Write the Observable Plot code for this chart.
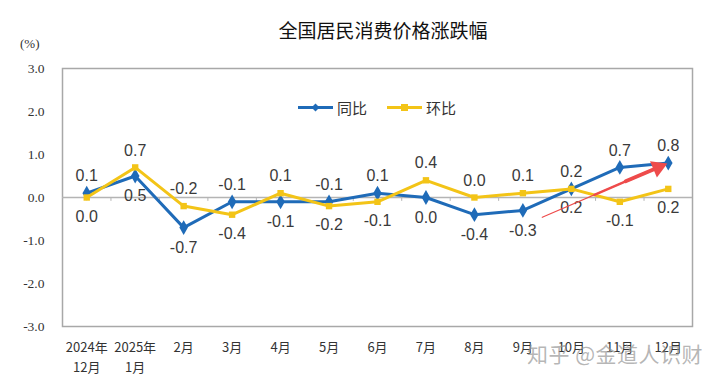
<!DOCTYPE html>
<html>
<head>
<meta charset="utf-8">
<script src="https://cdn.jsdelivr.net/npm/d3@7"></script>
<script src="https://cdn.jsdelivr.net/npm/@observablehq/plot@0.6"></script>
<style>
  html, body { margin: 0; padding: 0; background: #fff; }
  #wrap { position: relative; width: 720px; height: 383px; overflow: hidden; font-family: "Noto Sans CJK SC", "Noto Sans", sans-serif; }
  #title { position: absolute; left: 0; width: 766px; top: 16px; text-align: center; font-size: 19px; color: #111; }
  #unit { position: absolute; left: 20px; top: 36px; font-family: "Liberation Serif", serif; font-size: 13px; color: #333; }
  #legend { position: absolute; left: 298px; top: 97px; display: flex; align-items: center; font-size: 15px; color: #333; }
  #legend .item { display: flex; align-items: center; margin-right: 20px; }
  #legend svg { margin-right: 4px; }
  #wm { position: absolute; left: 527px; top: 338px; font-size: 21px; color: rgba(150,150,150,0.7); letter-spacing: 0.5px; }
</style>
</head>
<body>
<div id="wrap">
  <div id="chart"></div>
  <div id="title"></div>
  <div id="unit"></div>
  <div id="legend"></div>
  <div id="wm"></div>
</div>
<script>
const titleText = "全国居民消费价格涨跌幅";
const unitText = "(%)";
const months = ["2024年\n12月", "2025年\n1月", "2月", "3月", "4月", "5月", "6月", "7月", "8月", "9月", "10月", "11月", "12月"];
const yoy = [0.1, 0.5, -0.7, -0.1, -0.1, -0.1, 0.1, 0.0, -0.4, -0.3, 0.2, 0.7, 0.8];   // 同比
const mom = [0.0, 0.7, -0.2, -0.4, 0.1, -0.2, -0.1, 0.4, 0.0, 0.1, 0.2, -0.1, 0.2];   // 环比
const seriesNames = ["同比", "环比"];
const yTicks = [-3, -2, -1, 0, 1, 2, 3];
const arrowStart = [9.4, -0.46];
const arrowHead = [11.79, 0.70];
const watermark = "知乎 @金道人识财";

const blue = "#1f6bb8";
const yellow = "#f3c417";
const red = "#ee4b4b";

const rows = months.map((m, i) => ({i, m, yoy: yoy[i], mom: mom[i]}));
const bounds = months.slice(1).map((_, i) => i + 0.5);

// tapered arrow shaft segments
const shaft = [0, 0.45, 0.72].map((t, k) => ({
  x1: arrowStart[0] + (arrowHead[0] - arrowStart[0]) * t,
  y1: arrowStart[1] + (arrowHead[1] - arrowStart[1]) * t,
  x2: arrowHead[0], y2: arrowHead[1], w: [1.2, 2.4, 3.8][k]
}));

const plot = Plot.plot({
  width: 720, height: 383,
  marginLeft: 62, marginRight: 28, marginTop: 68, marginBottom: 57,
  x: {domain: [-0.5, 12.5]},
  y: {domain: [-3, 3]},
  style: {background: "#fff", color: "#333", fontFamily: "Liberation Sans, Arial, sans-serif"},
  marks: [
    Plot.frame({stroke: "#a8a8a8", strokeWidth: 1.5}),
    Plot.ruleY([0], {stroke: "#b4b4b4", strokeWidth: 1.5}),
    Plot.ruleX(bounds, {y1: 0, y2: -0.09, stroke: "#b4b4b4", strokeWidth: 1}),
    Plot.axisY({ticks: yTicks, tickSize: 0, tickPadding: 18, tickFormat: d => d.toFixed(1), fontFamily: "Liberation Serif", fontSize: 13.5, label: null}),
    Plot.axisX({ticks: rows.map(d => d.i), tickFormat: i => months[i], tickSize: 0, tickPadding: 11, fontSize: 13, lineHeight: 1.55, fontFamily: "Noto Sans CJK SC", label: null}),
    Plot.line(rows, {x: "i", y: "yoy", stroke: blue, strokeWidth: 3}),
    Plot.dot(rows, {x: "i", y: "yoy", symbol: "diamond", r: 4.5, fill: blue}),
    Plot.line(rows, {x: "i", y: "mom", stroke: yellow, strokeWidth: 3}),
    Plot.dot(rows, {x: "i", y: "mom", symbol: "square", r: 3.6, fill: yellow}),
    Plot.text(rows.filter(d => d.yoy >= d.mom), {x: "i", y: "yoy", text: d => d.yoy.toFixed(1), dy: -17, fontSize: 16, fill: "#3a3a3a"}),
    Plot.text(rows.filter(d => d.yoy < d.mom), {x: "i", y: "yoy", text: d => d.yoy.toFixed(1), dy: 20, fontSize: 16, fill: "#3a3a3a"}),
    Plot.text(rows.filter(d => d.mom > d.yoy), {x: "i", y: "mom", text: d => d.mom.toFixed(1), dy: -17, fontSize: 16, fill: "#3a3a3a"}),
    Plot.text(rows.filter(d => d.mom <= d.yoy), {x: "i", y: "mom", text: d => d.mom.toFixed(1), dy: 19, fontSize: 16, fill: "#3a3a3a"}),
    Plot.link(shaft, {x1: "x1", y1: "y1", x2: "x2", y2: "y2", stroke: red, strokeWidth: d => d.w, strokeLinecap: "round"}),
    Plot.dot([arrowHead], {x: d => d[0], y: d => d[1], symbol: "triangle", r: 6.5, fill: red, rotate: 66.7})
  ]
});
document.getElementById("chart").appendChild(plot);

document.getElementById("title").textContent = titleText;
document.getElementById("unit").textContent = unitText;
document.getElementById("wm").textContent = watermark;

const legend = document.getElementById("legend");
[[seriesNames[0], blue, "diamond"], [seriesNames[1], yellow, "square"]].forEach(([name, color, sym]) => {
  const item = document.createElement("div");
  item.className = "item";
  const marker = sym === "diamond"
    ? `<path d="M17.5,3.5 L21.5,7.5 L17.5,11.5 L13.5,7.5 Z" fill="${color}"/>`
    : `<rect x="14" y="4" width="7" height="7" fill="${color}"/>`;
  item.innerHTML = `<svg width="35" height="15"><line x1="0" y1="7.5" x2="35" y2="7.5" stroke="${color}" stroke-width="3"/>${marker}</svg><span>${name}</span>`;
  legend.appendChild(item);
});
</script>
</body>
</html>
